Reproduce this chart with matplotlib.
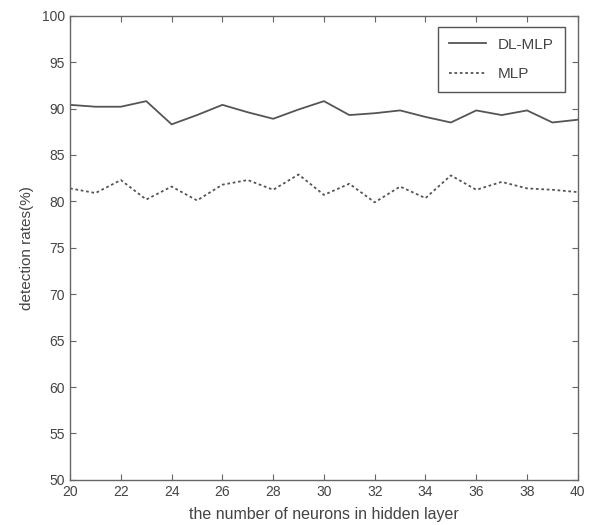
import matplotlib
matplotlib.use('Agg')
import matplotlib.pyplot as plt

plt.rcParams['font.family'] = ['Liberation Sans', 'DejaVu Sans']

# neurons in hidden layer
neurons = list(range(20, 41))
# detection rates (%)
dl_mlp = [90.4, 90.2, 90.2, 90.8, 88.3, 89.3, 90.4, 89.6, 88.9, 89.9, 90.8,
          89.3, 89.5, 89.8, 89.1, 88.5, 89.8, 89.3, 89.8, 88.5, 88.8]
mlp = [81.4, 80.9, 82.3, 80.2, 81.6, 80.1, 81.8, 82.3, 81.25, 82.9, 80.7,
       81.9, 79.9, 81.6, 80.35, 82.8, 81.25, 82.1, 81.4, 81.25, 81.0]

xticks = list(range(20, 41, 2))
yticks = list(range(50, 101, 5))

fig = plt.figure(figsize=(5.89, 5.25), dpi=100)
ax = fig.add_axes([0.119, 0.086, 0.862, 0.884])

line_col = '#555555'
ax.plot(neurons, dl_mlp, color=line_col, linewidth=1.3, linestyle='-', label='DL-MLP')
ax.plot(neurons, mlp, color=line_col, linewidth=1.3, linestyle=(0, (1.5, 1.5)), label='MLP')

ax.set_xlim(20, 40)
ax.set_ylim(50, 100)
ax.set_xticks(xticks)
ax.set_yticks(yticks)
ax.tick_params(direction='in', top=True, right=True, length=4, width=0.8,
               color='#666666', labelsize=10, labelcolor='#444444')
for s in ax.spines.values():
    s.set_color('#666666')
    s.set_linewidth(1.0)

ax.set_xlabel('the number of neurons in hidden layer', fontsize=11.5, color='#444444', labelpad=6)
ax.set_ylabel('detection rates(%)', fontsize=11, color='#444444', labelpad=6)

leg = ax.legend(loc='upper right', bbox_to_anchor=(0.974, 0.976), borderaxespad=0,
                fontsize=11, fancybox=False, framealpha=1, edgecolor='#555555',
                handlelength=2.4, borderpad=0.7, labelspacing=1.0)
for t in leg.get_texts():
    t.set_color('#444444')
leg.get_frame().set_linewidth(1.0)

fig.savefig('out.png', dpi=100)
